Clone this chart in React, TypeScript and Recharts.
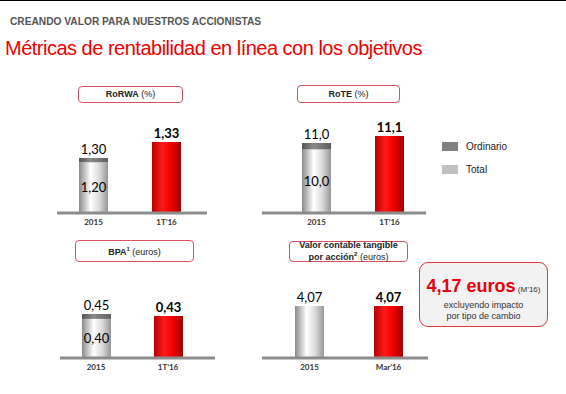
import React from 'react';
import { BarChart, Bar, XAxis, YAxis, LabelList } from 'recharts';

// RoRWA (%)
const rorwaCats = ['2015', '1T’16'];
const rorwaOrdinario = [1.3, null];
const rorwaTotal = [1.2, null];
const rorwaActual = [null, 1.33];

// RoTE (%)
const roteCats = ['2015', '1T’16'];
const roteOrdinario = [11.0, null];
const roteTotal = [10.0, null];
const roteActual = [null, 11.1];

// BPA (euros)
const bpaCats = ['2015', '1T’16'];
const bpaOrdinario = [0.45, null];
const bpaTotal = [0.4, null];
const bpaActual = [null, 0.43];

// Valor contable tangible por acción (euros)
const vctCats = ['2015', 'Mar’16'];
const vctOrdinario = [null, null];
const vctTotal = [4.07, null];
const vctActual = [null, 4.07];

const legendLabels = ['Ordinario', 'Total'];

const buildRows = (cats, ord, tot, act) =>
    cats.map((name, i) => ({
        name,
        total: tot[i],
        extra: ord[i] != null && tot[i] != null ? ord[i] - tot[i] : null,
        ord: ord[i],
        actual: act[i],
    }));

const fmt = (d) => (v) => (v == null ? '' : Number(v).toFixed(d).replace('.', ','));

const valueFont = 'Lato, "DejaVu Sans", sans-serif';

function Panel({ id, left, baseline, width, padL, padR, rows, decimals, maxL, maxR, totalPos }) {
    const f = fmt(decimals);
    return (
        <div style={{ position: 'absolute', left, top: baseline - 130 }}>
            <BarChart width={width} height={152} data={rows}
                      margin={{ top: 30, right: 0, left: 0, bottom: 0 }}>
                <defs>
                    <linearGradient id={id + 'g'} x1="0" y1="0" x2="1" y2="0">
                        <stop offset="0" stopColor="#8a8a8a"/>
                        <stop offset="0.4" stopColor="#ffffff"/>
                        <stop offset="0.7" stopColor="#dadada"/>
                        <stop offset="1" stopColor="#969696"/>
                    </linearGradient>
                    <linearGradient id={id + 'd'} x1="0" y1="0" x2="1" y2="0">
                        <stop offset="0" stopColor="#555555"/>
                        <stop offset="0.4" stopColor="#8a8a8a"/>
                        <stop offset="1" stopColor="#5e5e5e"/>
                    </linearGradient>
                    <linearGradient id={id + 'r'} x1="0" y1="0" x2="1" y2="0">
                        <stop offset="0" stopColor="#b80000"/>
                        <stop offset="0.35" stopColor="#ff1a1a"/>
                        <stop offset="0.65" stopColor="#f00000"/>
                        <stop offset="1" stopColor="#a00000"/>
                    </linearGradient>
                </defs>
                <XAxis dataKey="name" axisLine={{ stroke: '#8c8c8c', strokeWidth: 3 }} tickLine={false}
                       tickSize={4} tickMargin={2} height={22} padding={{ left: padL, right: padR }}
                       tick={{ fontSize: 8, fontWeight: 700, fill: '#333', fontFamily: valueFont }}/>
                <YAxis yAxisId="l" hide domain={[0, maxL]} allowDataOverflow type="number"/>
                <YAxis yAxisId="r" hide domain={[0, maxR]} allowDataOverflow type="number"/>
                <Bar dataKey="total" stackId="s" yAxisId="l" barSize={29} fill={`url(#${id}g)`} isAnimationActive={false}>
                    <LabelList dataKey="total" position={totalPos} offset={4} formatter={f}
                               fill="#000" fontSize={13} fontFamily={valueFont}/>
                </Bar>
                <Bar dataKey="extra" stackId="s" yAxisId="l" barSize={29} fill={`url(#${id}d)`} isAnimationActive={false}>
                    <LabelList dataKey="ord" position="top" offset={4} formatter={f}
                               fill="#000" fontSize={13} fontFamily={valueFont}/>
                </Bar>
                <Bar dataKey="actual" stackId="s" yAxisId="r" barSize={30} fill={`url(#${id}r)`} isAnimationActive={false}>
                    <LabelList dataKey="actual" position="top" offset={4} formatter={f}
                               fill="#000" fontSize={13} fontWeight={700} fontFamily={valueFont}/>
                </Bar>
            </BarChart>
        </div>
    );
}

function TitleBox({ left, top, width, height, children }) {
    return (
        <div style={{
            position: 'absolute', left, top, width, height, boxSizing: 'border-box',
            border: '1px solid #d9505f', borderRadius: 4, background: '#fff',
            display: 'flex', flexDirection: 'column', alignItems: 'center', justifyContent: 'center',
            fontSize: 9, lineHeight: '9px', color: '#222',
        }}>
            {children}
        </div>
    );
}

export default function App() {
    return (
        <div style={{
            position: 'absolute', left: 0, top: 0, width: 566, height: 394, background: '#fff',
            overflow: 'hidden', fontFamily: '"Liberation Sans", Arial, sans-serif',
        }}>
            <div style={{ position: 'absolute', left: 0, top: 0, width: 566, height: 1, background: '#000' }}/>
            <div style={{ position: 'absolute', left: 10, top: 16, fontSize: 10.2, fontWeight: 700, color: '#555' }}>
                CREANDO VALOR PARA NUESTROS ACCIONISTAS
            </div>
            <div style={{ position: 'absolute', left: 5, top: 37, fontSize: 20, letterSpacing: -0.5, color: '#f00000' }}>
                Métricas de rentabilidad en línea con los objetivos
            </div>

            <Panel id="p1" left={57} baseline={213} width={150} padL={0} padR={4}
                   rows={buildRows(rorwaCats, rorwaOrdinario, rorwaTotal, rorwaActual)}
                   decimals={2} maxL={2.364} maxR={1.873} totalPos="center"/>
            <Panel id="p2" left={262} baseline={213} width={164} padL={18} padR={0}
                   rows={buildRows(roteCats, roteOrdinario, roteTotal, roteActual)}
                   decimals={1} maxL={15.71} maxR={14.42} totalPos="center"/>
            <Panel id="p3" left={60} baseline={358} width={155} padL={0} padR={11}
                   rows={buildRows(bpaCats, bpaOrdinario, bpaTotal, bpaActual)}
                   decimals={2} maxL={1.023} maxR={1.024} totalPos="center"/>
            <Panel id="p4" left={262} baseline={358} width={166} padL={8} padR={0}
                   rows={buildRows(vctCats, vctOrdinario, vctTotal, vctActual)}
                   decimals={2} maxL={7.83} maxR={7.83} totalPos="top"/>

            <TitleBox left={78} top={86} width={105} height={17}>
                <span><b>RoRWA</b> (%)</span>
            </TitleBox>
            <TitleBox left={297} top={85} width={103} height={18}>
                <span><b>RoTE</b> (%)</span>
            </TitleBox>
            <TitleBox left={75} top={240} width={119} height={22}>
                <span><b>BPA<sup style={{ fontSize: 6 }}>1</sup></b> (euros)</span>
            </TitleBox>
            <TitleBox left={289} top={241} width={119} height={21}>
                <span><b>Valor contable tangible</b></span>
                <span><b>por acción<sup style={{ fontSize: 6 }}>2</sup></b> (euros)</span>
            </TitleBox>

            {legendLabels.map((l, i) => (
                <div key={l} style={{ position: 'absolute', left: 442, top: 141 + i * 23, display: 'flex', alignItems: 'center' }}>
                    <div style={{ width: 16, height: 9, background: i === 0 ? '#808080' : '#c0c0c0' }}/>
                    <span style={{ marginLeft: 8, fontSize: 10, color: '#222' }}>{l}</span>
                </div>
            ))}

            <div style={{
                position: 'absolute', left: 419, top: 262, width: 129, height: 65, boxSizing: 'border-box',
                border: '1px solid #e03a3a', borderRadius: 9, background: '#f2f2f2', textAlign: 'center',
            }}>
                <div style={{ marginTop: 13, lineHeight: '20px', whiteSpace: 'nowrap' }}>
                    <span style={{ fontSize: 18, fontWeight: 700, color: '#e8000b' }}>4,17 euros</span>
                    <span style={{ fontSize: 8, color: '#333' }}> (M’16)</span>
                </div>
                <div style={{ fontSize: 9, lineHeight: '11px', color: '#333' }}>excluyendo impacto</div>
                <div style={{ fontSize: 9, lineHeight: '11px', color: '#333' }}>por tipo de cambio</div>
            </div>
        </div>
    );
}
